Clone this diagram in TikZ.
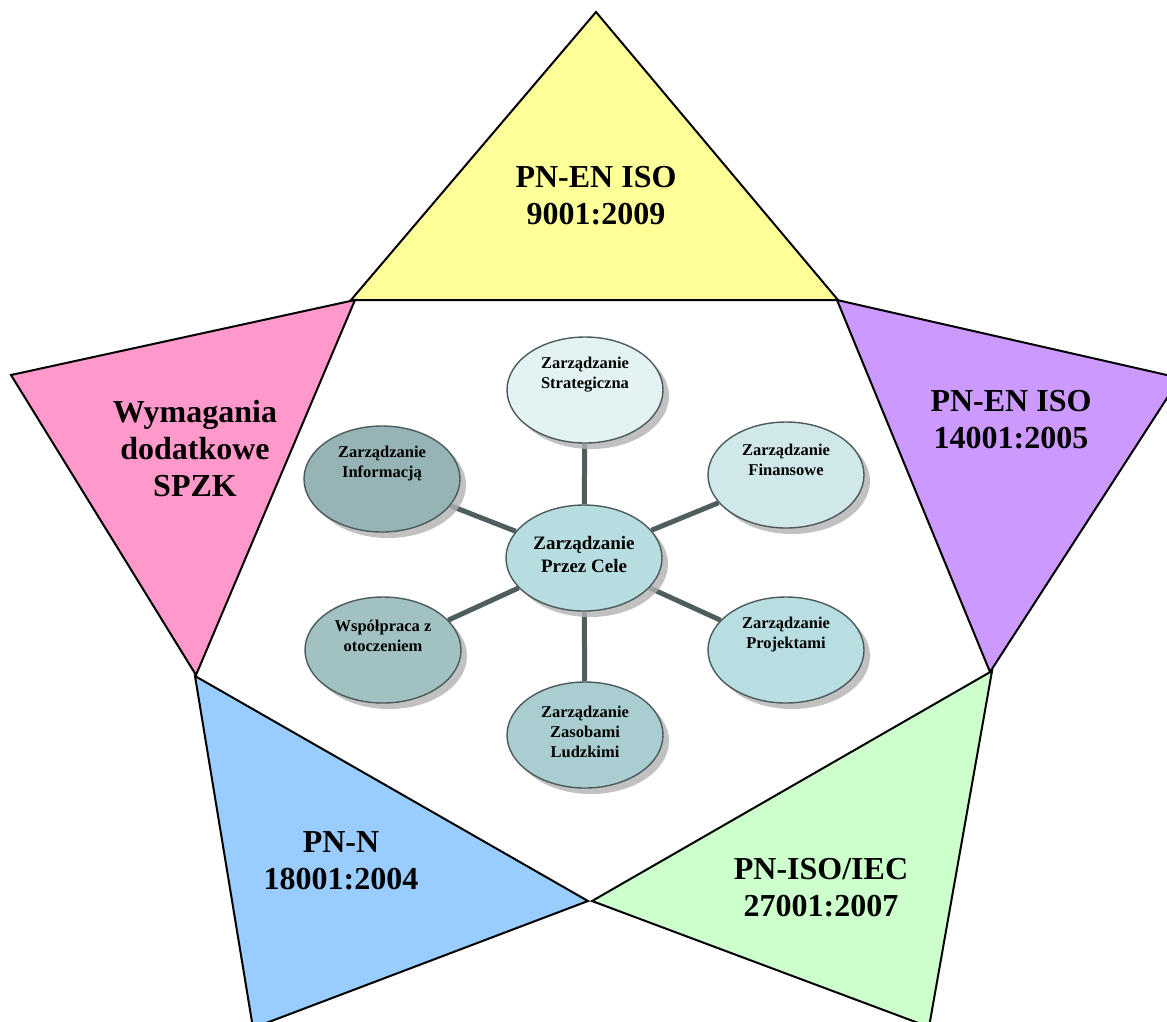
\documentclass[tikz,border=0pt]{standalone}
\usepackage{fontspec}
\setmainfont{Liberation Serif}
\usetikzlibrary{shapes.geometric,shadows,backgrounds}

\definecolor{isoyellow}{HTML}{FFFF99}
\definecolor{spzkpink}{HTML}{FF99CC}
\definecolor{envpurple}{HTML}{CC99FF}
\definecolor{bhpblue}{HTML}{99CCFF}
\definecolor{secgreen}{HTML}{CCFFCC}
\definecolor{bubbleedge}{HTML}{4C5A5B}
\definecolor{spokegray}{HTML}{4F5D5E}
\definecolor{hubfill}{HTML}{B7DDE1}
\definecolor{stratfill}{HTML}{E3F3F4}
\definecolor{finfill}{HTML}{D0E8EA}
\definecolor{projfill}{HTML}{B9DEE2}
\definecolor{hrfill}{HTML}{A9CDD0}
\definecolor{envfill}{HTML}{A1C1C3}
\definecolor{infofill}{HTML}{96B3B5}

\begin{document}
\begin{tikzpicture}[
    x=1pt, y=-1pt,
    facet/.style={draw=black, line width=2pt},
    stdlabel/.style={font=\fontsize{32}{37}\selectfont\bfseries, align=center, inner sep=0pt},
    bubble/.style={ellipse, draw=bubbleedge, line width=1.4pt, minimum width=156pt, minimum height=106pt, inner sep=0pt,
        drop shadow={shadow xshift=6pt, shadow yshift=-6pt, fill=black!30, opacity=0.8}},
    bubtext/.style={font=\fontsize{16.5}{20}\selectfont\bfseries, align=center, inner sep=0pt},
    spoke/.style={draw=spokegray, line width=5pt}
]
\useasboundingbox (0,0) rectangle (1167,1021);

% star made of five triangles round the pentagon
\begin{scope}
\clip (0,0) rectangle (1167,1021);
\filldraw[facet, fill=isoyellow] (596,12) -- (351,300) -- (838,300) -- cycle;
\filldraw[facet, fill=spzkpink] (355,300) -- (11,375) -- (196,675) -- cycle;
\filldraw[facet, fill=envpurple] (837,300) -- (1180,378) -- (990,672) -- cycle;
\filldraw[facet, fill=bhpblue] (195,676) -- (588,901) -- (253,1028) -- cycle;
\filldraw[facet, fill=secgreen] (992,671) -- (592,901) -- (929,1027) -- cycle;
\end{scope}

\node[stdlabel] (iso9001) at (596,196) {PN-EN ISO\\9001:2009};
\node[stdlabel] (spzk) at (195,449) {Wymagania\\dodatkowe\\SPZK};
\node[stdlabel] (iso14001) at (1011,420) {PN-EN ISO\\14001:2005};
\node[stdlabel] (pn18001) at (341,861) {PN-N\\18001:2004};
\node[stdlabel] (iec27001) at (821,888) {PN-ISO/IEC\\27001:2007};

% management areas
\node[bubble, fill=hubfill] (hub) at (584,558) {};
\node[bubble, fill=stratfill] (strat) at (585,390) {};
\node[bubble, fill=finfill] (fin) at (786,475) {};
\node[bubble, fill=projfill] (proj) at (786,650) {};
\node[bubble, fill=hrfill] (hr) at (585,735) {};
\node[bubble, fill=envfill] (env) at (383,650) {};
\node[bubble, fill=infofill] (info) at (382,479) {};

\node[bubtext, font=\fontsize{19}{23}\selectfont\bfseries] (hub-t) at ([yshift=4pt]hub.center) {Zarządzanie\\Przez Cele};
\node[bubtext] (strat-t) at ([yshift=15pt]strat.center) {Zarządzanie\\Strategiczna};
\node[bubtext] (fin-t) at ([yshift=15pt]fin.center) {Zarządzanie\\Finansowe};
\node[bubtext] (proj-t) at ([yshift=15pt]proj.center) {Zarządzanie\\Projektami};
\node[bubtext] (hr-t) at ([yshift=3pt]hr.center) {Zarządzanie\\Zasobami\\Ludzkimi};
\node[bubtext] (env-t) at ([yshift=14pt]env.center) {Współpraca z\\otoczeniem};
\node[bubtext] (info-t) at ([yshift=15pt]info.center) {Zarządzanie\\Informacją};

\begin{scope}[on background layer]
\foreach \area in {strat,fin,proj,hr,env,info}
    \draw[spoke] (hub) -- (\area);
\end{scope}

\end{tikzpicture}
\end{document}
